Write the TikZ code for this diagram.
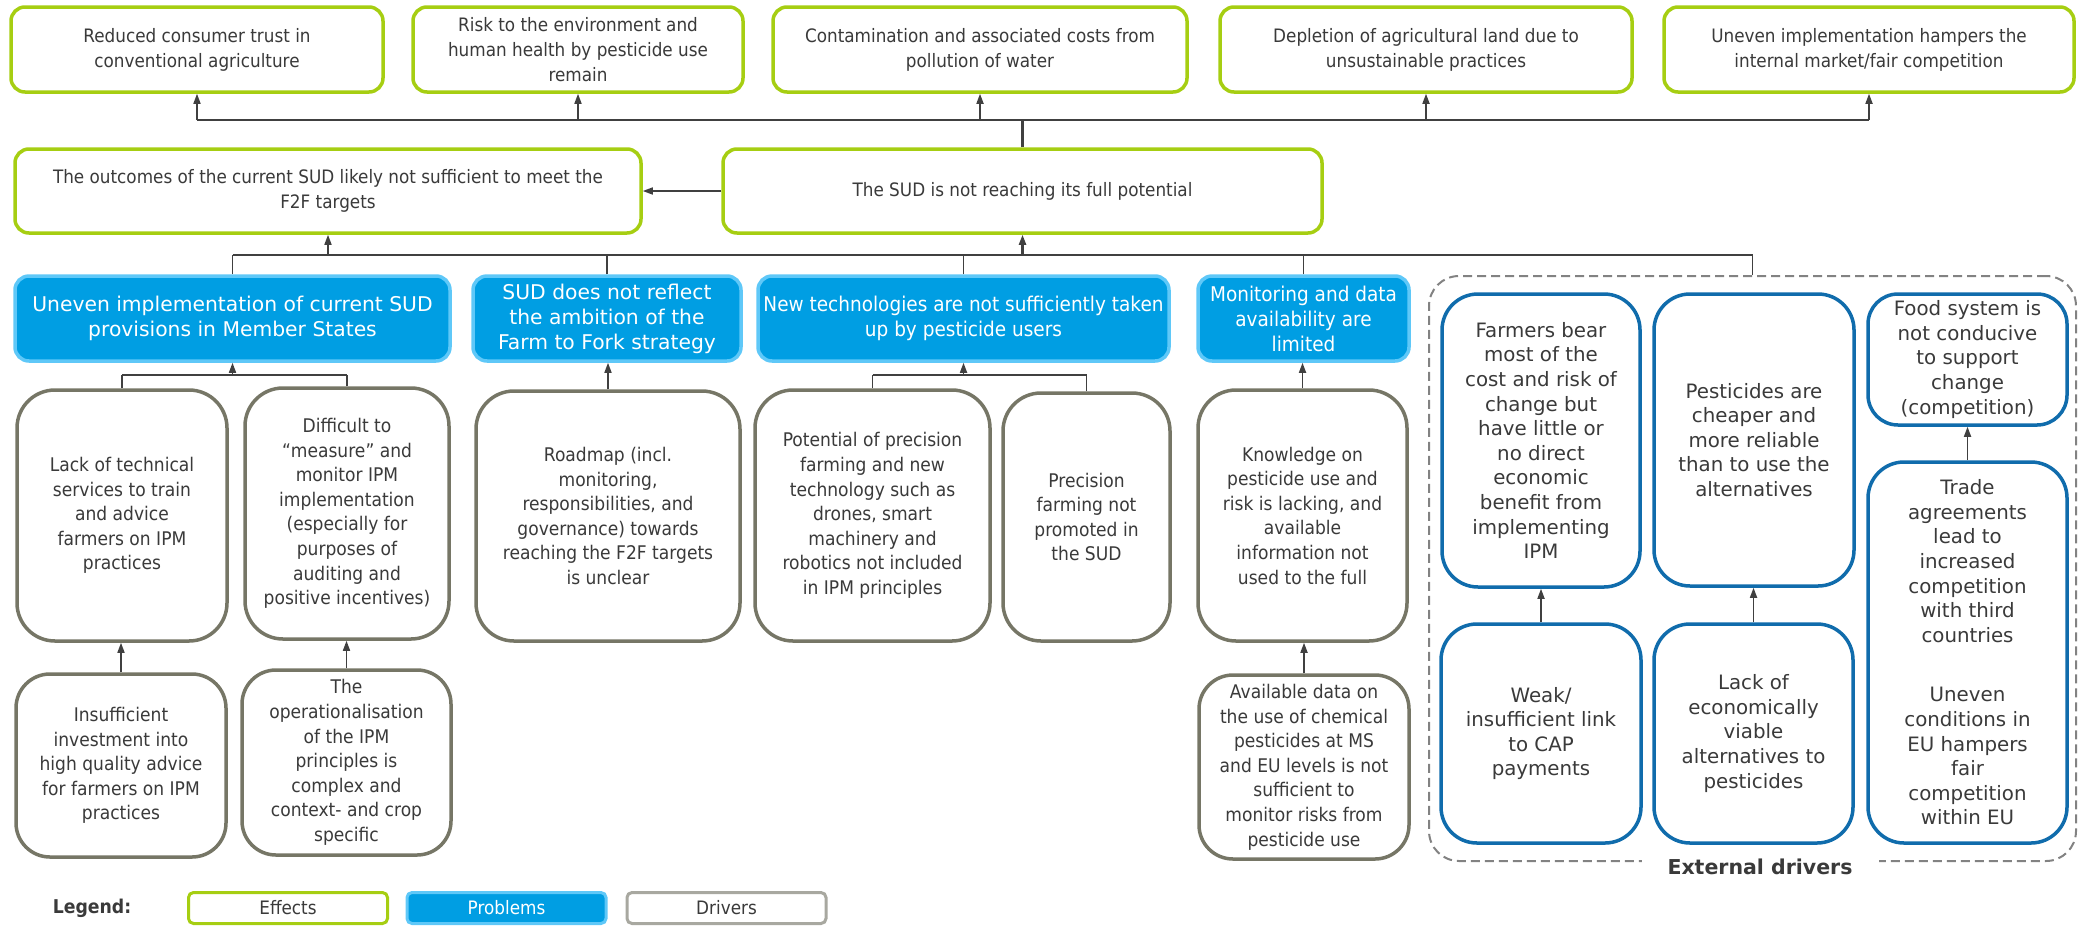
\documentclass[tikz,border=0pt]{standalone}
\usepackage{fontspec}
\setmainfont{DejaVu Sans}
\newfontfamily\tah[FakeStretch=0.91]{DejaVu Sans}
\newfontfamily\verd{DejaVu Sans}
\usetikzlibrary{arrows.meta}
\definecolor{effgreen}{RGB}{166,206,18}
\definecolor{probfill}{RGB}{0,158,227}
\definecolor{probedge}{RGB}{95,200,248}
\definecolor{drvgray}{RGB}{118,118,102}
\definecolor{extblue}{RGB}{16,108,172}
\definecolor{txt}{RGB}{58,58,58}
\definecolor{conncol}{RGB}{64,64,64}
\definecolor{dashgray}{RGB}{130,130,130}
\definecolor{leggray}{RGB}{168,168,160}
\tikzset{
  base/.style={align=center, inner sep=0pt, text=txt, line width=3.5pt},
  eff/.style={base, draw=effgreen, fill=white, rounded corners=14pt, font=\tah\fontsize{18.5}{25}\selectfont},
  prob/.style={base, draw=probedge, fill=probfill, text=white, rounded corners=14pt, font=\verd\fontsize{20.3}{25}\selectfont},
  probn/.style={prob, font=\tah\fontsize{20.3}{25}\selectfont},
  drv/.style={base, draw=drvgray, fill=white, rounded corners=38pt, font=\tah\fontsize{18.8}{24.6}\selectfont},
  ext/.style={base, draw=extblue, fill=white, rounded corners=36pt, font=\verd\fontsize{19.8}{24.6}\selectfont},
  conn/.style={draw=conncol, line width=1.6pt},
  arr/.style={conn, -{Triangle[length=10pt,width=7pt]}},
  legbox/.style={base, rounded corners=5pt, line width=3pt, minimum width=199pt, minimum height=31pt, font=\tah\fontsize{18.5}{22}\selectfont}
}
\begin{document}
\begin{tikzpicture}[x=1pt,y=-1pt]
\useasboundingbox (0,0) rectangle (2079,927);

% Effects
\node[eff, minimum width=372pt, minimum height=85pt] (e1) at (197,49.5) {Reduced consumer trust in\\conventional agriculture};
\node[eff, minimum width=330pt, minimum height=85pt] (e2) at (578,49.5) {Risk to the environment and\\human health by pesticide use\\remain};
\node[eff, minimum width=414pt, minimum height=85pt] (e3) at (980,49.5) {Contamination and associated costs from\\pollution of water};
\node[eff, minimum width=412pt, minimum height=85pt] (e4) at (1426,49.5) {Depletion of agricultural land due to\\unsustainable practices};
\node[eff, minimum width=410pt, minimum height=85pt] (e5) at (1869,49.5) {Uneven implementation hampers the\\internal market/fair competition};

\node[eff, minimum width=626pt, minimum height=84pt] (o1) at (328,191) {The outcomes of the current SUD likely not sufficient to meet the\\F2F targets};
\node[eff, minimum width=599pt, minimum height=84pt] (o2) at (1022.5,191) {The SUD is not reaching its full potential};

% Problems
\node[prob, minimum width=435pt, minimum height=85pt] (p1) at (232.5,318.5) {Uneven implementation of current SUD\\provisions in Member States};
\node[prob, minimum width=268pt, minimum height=85pt] (p2) at (607,318.5) {SUD does not reflect\\the ambition of the\\Farm to Fork strategy};
\node[probn, minimum width=411pt, minimum height=85pt] (p3) at (963.5,318.5) {New technologies are not sufficiently taken\\up by pesticide users};
\node[probn, minimum width=211pt, minimum height=85pt] (p4) at (1303.5,318.5) {Monitoring and data\\availability are\\limited};

% Drivers
\node[drv, minimum width=210pt, minimum height=251pt] (d1) at (122,515.5) {Lack of technical\\services to train\\and advice\\farmers on IPM\\practices};
\node[drv, minimum width=204pt, minimum height=251pt] (d2) at (347,513.5) {Difficult to\\“measure” and\\monitor IPM\\implementation\\(especially for\\purposes of\\auditing and\\positive incentives)};
\node[drv, minimum width=264pt, minimum height=250pt] (d3) at (608,516) {Roadmap (incl.\\monitoring,\\responsibilities, and\\governance) towards\\reaching the F2F targets\\is unclear};
\node[drv, minimum width=235pt, minimum height=251pt] (d4) at (872.5,515.5) {Potential of precision\\farming and new\\technology such as\\drones, smart\\machinery and\\robotics not included\\in IPM principles};
\node[drv, minimum width=167pt, minimum height=248pt] (d5) at (1086.5,517) {Precision\\farming not\\promoted in\\the SUD};
\node[drv, minimum width=209pt, minimum height=251pt] (d6) at (1302.5,515.5) {Knowledge on\\pesticide use and\\risk is lacking, and\\available\\information not\\used to the full};
\node[drv, rounded corners=34pt, minimum width=210pt, minimum height=183pt] (d1b) at (121,765.5) {Insufficient\\investment into\\high quality advice\\for farmers on IPM\\practices};
\node[drv, rounded corners=34pt, minimum width=209pt, minimum height=185pt] (d2b) at (346.5,762.5) {The\\operationalisation\\of the IPM\\principles is\\complex and\\context- and crop\\specific};
\node[drv, rounded corners=34pt, minimum width=210pt, minimum height=184pt] (d6b) at (1304,767) {Available data on\\the use of chemical\\pesticides at MS\\and EU levels is not\\sufficient to\\monitor risks from\\pesticide use};

% External drivers
\node[draw=dashgray, line width=2pt, dash pattern=on 9pt off 5pt, rounded corners=30pt, minimum width=647pt, minimum height=585pt, inner sep=0pt] (extbox) at (1752.5,568.5) {};
\node[ext, minimum width=198pt, minimum height=293pt] (x1) at (1541,440.5) {Farmers bear\\most of the\\cost and risk of\\change but\\have little or\\no direct\\economic\\benefit from\\implementing\\IPM};
\node[ext, minimum width=200pt, minimum height=292pt] (x2) at (1754,440) {Pesticides are\\cheaper and\\more reliable\\than to use the\\alternatives};
\node[ext, rounded corners=30pt, minimum width=199pt, minimum height=131pt] (x3) at (1967.5,359.5) {Food system is\\not conducive\\to support\\change\\(competition)};
\node[ext, minimum width=199pt, minimum height=381pt] (x4) at (1967.5,652.5) {Trade\\agreements\\lead to\\increased\\competition\\with third\\countries\\[35pt]Uneven\\conditions in\\EU hampers\\fair\\competition\\within EU};
\node[ext, minimum width=200pt, minimum height=219pt] (x1b) at (1541,733.5) {Weak/\\insufficient link\\to CAP\\payments};
\node[ext, minimum width=199pt, minimum height=219pt] (x2b) at (1753.5,733.5) {Lack of\\economically\\viable\\alternatives to\\pesticides};
\node[fill=white, inner xsep=26pt, inner ysep=2pt, text=txt, font=\verd\bfseries\fontsize{20.5}{24}\selectfont] (extlabel) at (1760,867) {External drivers};

% Connectors: effects
\coordinate (busE) at (0,120);
\draw[conn] (e1.south |- busE) -- (e5.south |- busE);
\foreach \n in {e1,e2,e3,e4,e5} \draw[arr] (\n.south |- busE) -- (\n.south);
\draw[conn, line width=2.6pt] (o2.north) -- (o2.north |- busE);
\draw[arr] (o2.west) -- (o1.east);

% Connectors: problems to outcomes
\coordinate (busO) at (0,255);
\draw[conn] (p1.north |- busO) -- (extbox.north |- busO);
\draw[arr] (o1.south |- busO) -- (o1.south);
\draw[arr, line width=2.2pt] (o2.south |- busO) -- (o2.south);
\foreach \n in {p1,p2,p3,p4,extbox} \draw[conn] (\n.north) -- (\n.north |- busO);

% Connectors: drivers to problems
\coordinate (busD) at (0,375);
\draw[conn] (d1.north |- busD) -- (d2.north |- busD);
\draw[conn] (d1.north) -- (d1.north |- busD);
\draw[conn] (d2.north) -- (d2.north |- busD);
\draw[arr] (p1.south |- busD) -- (p1.south);
\draw[arr] (d3.north) -- (d3.north |- p2.south);
\draw[conn] (d4.north |- busD) -- (d5.north |- busD);
\draw[conn] (d4.north) -- (d4.north |- busD);
\draw[conn] (d5.north) -- (d5.north |- busD);
\draw[arr] (p3.south |- busD) -- (p3.south);
\draw[arr] (d6.north) -- (d6.north |- p4.south);

\draw[arr] (d1b.north) -- (d1b.north |- d1.south);
\draw[arr] (d2b.north) -- (d2b.north |- d2.south);
\draw[arr] (d6b.north) -- (d6b.north |- d6.south);
\draw[arr] (x1b.north) -- (x1b.north |- x1.south);
\draw[arr] (x2b.north) -- (x2b.north |- x2.south);
\draw[arr] (x4.north) -- (x4.north |- x3.south);

% Legend
\node[text=txt, font=\tah\bfseries\fontsize{19}{22}\selectfont] (legend) at (92,908) {Legend:};
\node[legbox, draw=effgreen, fill=white] (leff) at (288,908) {Effects};
\node[legbox, draw=probedge, fill=probfill, text=white] (lprob) at (506.5,908) {Problems};
\node[legbox, draw=leggray, fill=white] (ldrv) at (726.5,908) {Drivers};
\end{tikzpicture}
\end{document}
